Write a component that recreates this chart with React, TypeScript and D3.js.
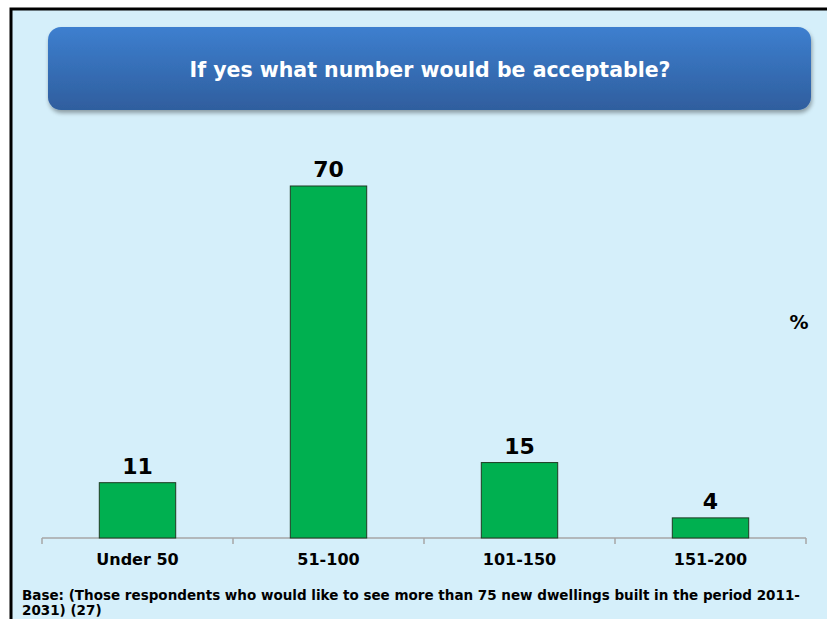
import React from "react";
import * as d3 from "d3";

const categories = ["Under 50", "51-100", "101-150", "151-200"];
const values = [11, 70, 15, 4];
const title = "If yes what number would be acceptable?";
const unitLabel = "%";
const footLines = [
  "Base: (Those respondents who would like to see more than 75 new dwellings built in the period 2011-",
  "2031) (27)",
];

const W = 827;
const H = 619;
const FONT = "'DejaVu Sans', Verdana, sans-serif";

export default function App() {
  const x = d3.scaleBand<string>().domain(categories).range([42, 806]).paddingInner(0.6).paddingOuter(0.3);
  const y = d3.scaleLinear().domain([0, 70]).range([538, 186]);
  const band = d3.scaleBand<string>().domain(categories).range([42, 806]);
  const tickXs = [...categories.map((c) => band(c) as number), 806];

  return (
    <svg
      width={W}
      height={H}
      style={{ position: "fixed", left: 0, top: 0, display: "block" }}
    >
      <defs>
        <linearGradient id="titleGrad" x1="0" y1="0" x2="0" y2="1">
          <stop offset="0" stopColor="#3D7FCF" />
          <stop offset="1" stopColor="#2F5E9E" />
        </linearGradient>
        <filter id="shadow" x="-5%" y="-10%" width="110%" height="130%">
          <feGaussianBlur in="SourceAlpha" stdDeviation="2" />
          <feOffset dx="1" dy="3" result="ob" />
          <feComponentTransfer>
            <feFuncA type="linear" slope="0.35" />
          </feComponentTransfer>
          <feMerge>
            <feMergeNode />
            <feMergeNode in="SourceGraphic" />
          </feMerge>
        </filter>
      </defs>
      <rect x={0} y={0} width={W} height={H} fill="#ffffff" />
      <rect x={11} y={9} width={W + 20} height={H + 20} fill="#D5EFFA" stroke="#000" strokeWidth={3} />
      <rect x={48} y={27} width={763} height={83} rx={13} ry={13} fill="url(#titleGrad)" filter="url(#shadow)" />
      <text
        x={430}
        y={77}
        textAnchor="middle"
        fill="#fff"
        fontFamily={FONT}
        fontWeight="bold"
        fontSize={20.5}
      >
        {title}
      </text>

      {/* axis */}
      <line x1={42} x2={806} y1={538} y2={538} stroke="#A6A6A6" strokeWidth={1.5} />
      {tickXs.map((t, i) => (
        <line key={i} x1={t} x2={t} y1={538} y2={544} stroke="#A6A6A6" strokeWidth={1.5} />
      ))}

      {categories.map((c, i) => (
        <g key={c}>
          <rect
            x={x(c)}
            y={y(values[i])}
            width={x.bandwidth()}
            height={538 - y(values[i])}
            fill="#00B050"
            stroke="#1E3B22"
            strokeWidth={1}
          />
          <text
            x={(x(c) as number) + x.bandwidth() / 2}
            y={y(values[i]) - 9}
            textAnchor="middle"
            fontFamily={FONT}
            fontWeight="bold"
            fontSize={22}
            fill="#000"
          >
            {values[i]}
          </text>
          <text
            x={(band(c) as number) + band.bandwidth() / 2}
            y={565}
            textAnchor="middle"
            fontFamily={FONT}
            fontWeight="bold"
            fontSize={16}
            fill="#000"
          >
            {c}
          </text>
        </g>
      ))}

      <text x={799} y={329} textAnchor="middle" fontFamily={FONT} fontWeight="bold" fontSize={19} fill="#000">
        {unitLabel}
      </text>

      {footLines.map((l, i) => (
        <text key={i} x={22} y={600 + i * 14.5} fontFamily={FONT} fontWeight="bold" fontSize={13.5} fill="#000">
          {l}
        </text>
      ))}
    </svg>
  );
}
